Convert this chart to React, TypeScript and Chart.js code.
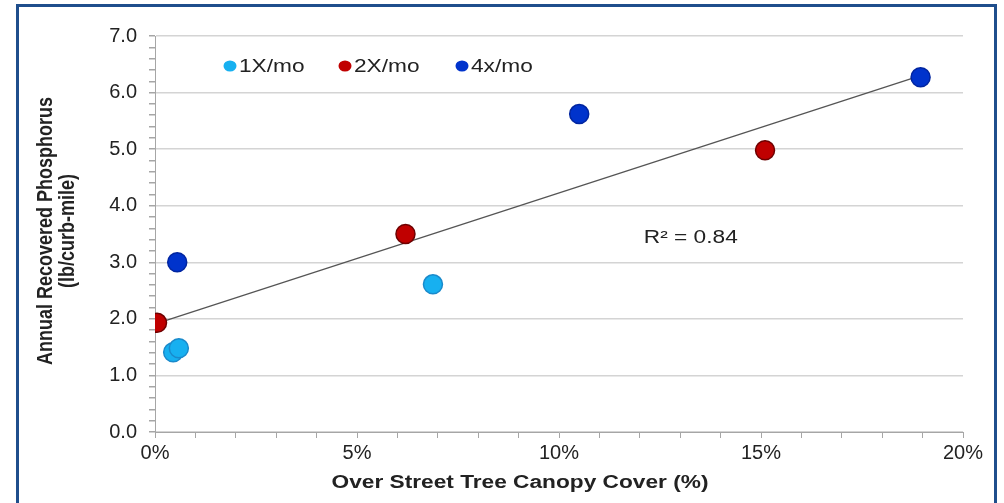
import React, { useEffect, useRef } from "react";
import { Chart, registerables } from "chart.js";

Chart.register(...registerables);

// Data (x = canopy cover %, y = lb/curb-mile)
const series1X_x = [0.45, 0.59, 6.88];
const series1X_y = [1.41, 1.48, 2.61];
const series2X_x = [0.05, 6.2, 15.1];
const series2X_y = [1.93, 3.5, 4.98];
const series4X_x = [0.55, 10.5, 18.95];
const series4X_y = [3.0, 5.62, 6.27];
const trendX = [0.05, 18.95];
const trendY = [1.92, 6.3];
const seriesNames = ["1X/mo", "2X/mo", "4x/mo"];
const xTickLabels = ["0%", "5%", "10%", "15%", "20%"];
const r2Label = "R² = 0.84";
const yTitle = ["Annual Recovered Phosphorus", "(lb/curb-mile)"];
const xTitle = "Over Street Tree Canopy Cover (%)";

const FONT = '"Liberation Sans", Arial, sans-serif';
const fills = ["#17b0f0", "#c00000", "#0033cc"];
const borders = ["#1a8acb", "#6e0000", "#0025a0"];
const SX = 1.26; // horizontal stretch of the reference text

const zip = (xs: number[], ys: number[]) => xs.map((x, i) => ({ x, y: ys[i] }));

const textAt = (ctx: any, t: string, x: number, y: number) => {
  ctx.save();
  ctx.translate(x, y);
  ctx.scale(SX, 1);
  ctx.fillText(t, 0, 0);
  ctx.restore();
};

const overlay = {
  id: "overlay",
  afterDraw(chart: any) {
    const { ctx, scales } = chart;
    const x = scales.x;
    const y = scales.y;
    ctx.save();
    // legend
    ctx.font = `18px ${FONT}`;
    ctx.textBaseline = "middle";
    ctx.textAlign = "left";
    const lx = [230, 345, 462];
    const ly = 66;
    seriesNames.forEach((n, i) => {
      ctx.beginPath();
      ctx.ellipse(lx[i], ly, 6.5, 5.5, 0, 0, Math.PI * 2);
      ctx.fillStyle = fills[i];
      ctx.fill();
      ctx.fillStyle = "#222";
      textAt(ctx, n, lx[i] + 9, ly + 1);
    });
    // R2
    ctx.fillStyle = "#222";
    textAt(ctx, r2Label, x.getPixelForValue(12.1), y.getPixelForValue(3.43));
    // axis titles
    ctx.font = `bold 18px ${FONT}`;
    ctx.textAlign = "center";
    [46, 68].forEach((cx, i) => {
      ctx.save();
      ctx.translate(cx, 231);
      ctx.scale(SX, 1);
      ctx.rotate(-Math.PI / 2);
      ctx.fillText(yTitle[i], 0, 0);
      ctx.restore();
    });
    textAt(ctx, xTitle, 520, 483);
    ctx.restore();
  },
};

const isInt = (v: number) => Math.abs(v - Math.round(v)) < 1e-6;

export default function App() {
  const ref = useRef<HTMLCanvasElement>(null);
  useEffect(() => {
    document.body.style.margin = "0";
    const pt = (i: number) => ({
      pointRadius: 9.5,
      pointHoverRadius: 9.5,
      pointBackgroundColor: fills[i],
      pointBorderColor: borders[i],
      pointBorderWidth: 1.5,
      showLine: false,
      order: 0,
    });
    const chart = new Chart(ref.current!, {
      type: "scatter",
      data: {
        datasets: [
          {
            label: "trend",
            data: zip(trendX, trendY),
            showLine: true,
            borderColor: "#555",
            borderWidth: 1.3,
            pointRadius: 0,
            order: 10,
          } as any,
          { label: seriesNames[0], data: zip(series1X_x, series1X_y), ...pt(0) },
          { label: seriesNames[1], data: zip(series2X_x, series2X_y), ...pt(1) },
          { label: seriesNames[2], data: zip(series4X_x, series4X_y), ...pt(2) },
        ],
      },
      options: {
        animation: false,
        responsive: true,
        maintainAspectRatio: false,
        layout: { padding: { top: 36, right: 41, left: 0, bottom: 0 } },
        plugins: { legend: { display: false }, tooltip: { enabled: false } },
        scales: {
          x: {
            type: "linear",
            min: 0,
            max: 20,
            afterFit: (s: any) => {
              s.height = 71;
            },
            afterBuildTicks: (s: any) => {
              s.ticks = Array.from({ length: 21 }, (_, i) => ({ value: i }));
            },
            ticks: {
              autoSkip: false,
              maxRotation: 0,
              padding: 3,
              color: "#222",
              font: { family: FONT, size: 20 },
              callback: (v: any) => (v % 5 === 0 ? xTickLabels[v / 5] : ""),
            },
            grid: {
              drawOnChartArea: false,
              tickLength: 6,
              tickColor: "#a6a6a6",
            },
            border: { color: "#a6a6a6", width: 1 },
          },
          y: {
            type: "linear",
            min: 0,
            max: 7,
            afterFit: (s: any) => {
              s.width = 155;
            },
            afterBuildTicks: (s: any) => {
              s.ticks = Array.from({ length: 36 }, (_, i) => ({ value: Math.round(i * 2) / 10 }));
            },
            ticks: {
              autoSkip: false,
              padding: 12,
              color: "#222",
              font: { family: FONT, size: 20 },
              callback: (v: any) => (isInt(v) ? Number(v).toFixed(1) : ""),
            },
            grid: {
              color: (c: any) => (c.tick && isInt(c.tick.value) ? "#d4d4d4" : "rgba(0,0,0,0)"),
              lineWidth: 1.5,
              tickLength: 6,
              tickColor: "#a6a6a6",
            },
            border: { color: "#a6a6a6", width: 1 },
          },
        },
      },
      plugins: [overlay],
    });
    return () => chart.destroy();
  }, []);
  return (
    <div style={{ position: "absolute", left: 0, top: 0, width: 1004, height: 503, background: "#fff", overflow: "hidden" }}>
      <div
        style={{
          position: "absolute",
          left: 16,
          top: 4,
          width: 981,
          height: 520,
          borderLeft: "3px solid #1f4e8c",
          borderTop: "3px solid #1f4e8c",
          borderRight: "3px solid #1f4e8c",
          boxSizing: "border-box",
        }}
      />
      <canvas ref={ref} style={{ position: "absolute", left: 0, top: 0, width: 1004, height: 503 }} />
    </div>
  );
}
